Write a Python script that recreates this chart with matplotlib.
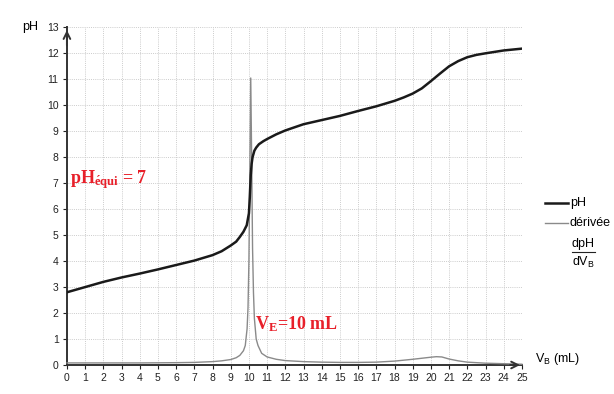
import matplotlib
matplotlib.use("Agg")
import matplotlib.pyplot as plt
from matplotlib.lines import Line2D

plt.rcParams['font.family'] = ['Liberation Sans', 'DejaVu Sans']
plt.rcParams['mathtext.fontset'] = 'custom'
plt.rcParams['mathtext.rm'] = 'Liberation Sans'
plt.rcParams['mathtext.bf'] = 'Liberation Serif:bold'

# titration curve
v_ph = [0, 1, 2, 3, 4, 5, 6, 7, 8, 8.5, 9, 9.3, 9.5, 9.7, 9.88, 10.0, 10.05,
        10.1, 10.15, 10.2, 10.3, 10.4, 10.55, 10.8, 11, 11.5, 12, 13, 14, 15,
        16, 17, 18, 18.5, 19, 19.5, 20, 20.5, 21, 21.5, 22, 22.5, 23, 24, 25]
ph = [2.8, 3.0, 3.2, 3.37, 3.52, 3.68, 3.85, 4.02, 4.23, 4.38, 4.6, 4.75, 4.93,
      5.13, 5.38, 5.84, 6.47, 7.3, 7.75, 8.0, 8.25, 8.37, 8.5, 8.62, 8.7, 8.88,
      9.03, 9.27, 9.43, 9.59, 9.78, 9.96, 10.17, 10.3, 10.45, 10.65, 10.93,
      11.22, 11.5, 11.7, 11.85, 11.94, 12.0, 12.11, 12.18]

# derivative dpH/dVB
v_der = [0, 2, 4, 6, 7, 8, 8.5, 9, 9.3, 9.5, 9.7, 9.8, 9.9, 9.95, 10.0, 10.05,
         10.1, 10.15, 10.2, 10.25, 10.3, 10.4, 10.5, 10.7, 11, 11.5, 12, 13, 14,
         15, 16, 17, 18, 19, 19.5, 20, 20.3, 20.6, 21, 21.5, 22, 23, 24, 25]
der = [0.08, 0.08, 0.08, 0.09, 0.1, 0.13, 0.16, 0.21, 0.28, 0.37, 0.55, 0.75,
       1.4, 2.2, 4.0, 7.5, 11.05, 8.0, 4.5, 2.8, 1.8, 1.0, 0.75, 0.45, 0.31,
       0.22, 0.17, 0.13, 0.11, 0.1, 0.1, 0.11, 0.15, 0.22, 0.26, 0.3, 0.32,
       0.31, 0.23, 0.16, 0.11, 0.07, 0.05, 0.03]

xticks = list(range(0, 26))
yticks = list(range(0, 14))

fig = plt.figure(figsize=(6.14, 3.94), dpi=100)
ax = fig.add_axes([0.109, 0.0736, 0.741, 0.857])

ax.set_xlim(0, 25)
ax.set_ylim(0, 13)
ax.set_xticks(xticks)
ax.set_yticks(yticks)
ax.tick_params(labelsize=7.5, length=3, width=0.8, colors='#222222', pad=3)
ax.grid(True, color='#cccccc', linestyle=(0, (1, 1.2)), linewidth=0.7)
ax.set_axisbelow(True)
for s in ['top', 'right']:
    ax.spines[s].set_visible(False)
for s in ['left', 'bottom']:
    ax.spines[s].set_linewidth(1.4)
    ax.spines[s].set_color('#333333')

ax.plot(v_der, der, color='#8a8a8a', lw=1.0, clip_on=False, zorder=3)
ax.plot(v_ph, ph, color='#1a1a1a', lw=1.8, zorder=4)

# axis arrows
ax.annotate('', xy=(0, 13.0), xytext=(0, 12.2),
            arrowprops=dict(arrowstyle='->', lw=1.4, color='#333333',
                            mutation_scale=12), annotation_clip=False)
ax.annotate('', xy=(25.05, 0), xytext=(24.2, 0),
            arrowprops=dict(arrowstyle='->', lw=1.4, color='#333333',
                            mutation_scale=12), annotation_clip=False)

fig.text(30 / 614, 1 - 27 / 394, 'pH', fontsize=9, ha='center', va='center')
fig.text(558 / 614, 1 - 359 / 394, r'V$_\mathrm{B}$ (mL)', fontsize=9,
         ha='center', va='center')

# red annotations
ax.text(0.15, 7.0, r'$\mathbf{pH_{\acute{e}qui}}$ = 7', color='#e8202a',
        fontsize=13, va='baseline', ha='left', family='Liberation Serif',
        weight='bold')
ax.text(10.33, 1.37, r'$\mathbf{V_E}$=10 mL', color='#e8202a',
        fontsize=13, va='baseline', ha='left', family='Liberation Serif',
        weight='bold')

# legend drawn by hand
fig.add_artist(Line2D([545 / 614, 568 / 614], [1 - 203 / 394] * 2,
                      color='#1a1a1a', lw=1.8, transform=fig.transFigure))
fig.text(570 / 614, 1 - 203 / 394, 'pH', fontsize=9, va='center')
fig.add_artist(Line2D([545 / 614, 568 / 614], [1 - 223 / 394] * 2,
                      color='#8a8a8a', lw=1.0, transform=fig.transFigure))
fig.text(570 / 614, 1 - 223 / 394, 'dérivée', fontsize=9, va='center')
fig.text(583 / 614, 1 - 244 / 394, 'dpH', fontsize=9, ha='center',
         va='center')
fig.add_artist(Line2D([572 / 614, 595 / 614], [1 - 252 / 394] * 2,
                      color='#222222', lw=0.8, transform=fig.transFigure))
fig.text(583 / 614, 1 - 262 / 394, r'dV$_\mathrm{B}$', fontsize=9,
         ha='center', va='center')

fig.savefig('out.png', dpi=100)
